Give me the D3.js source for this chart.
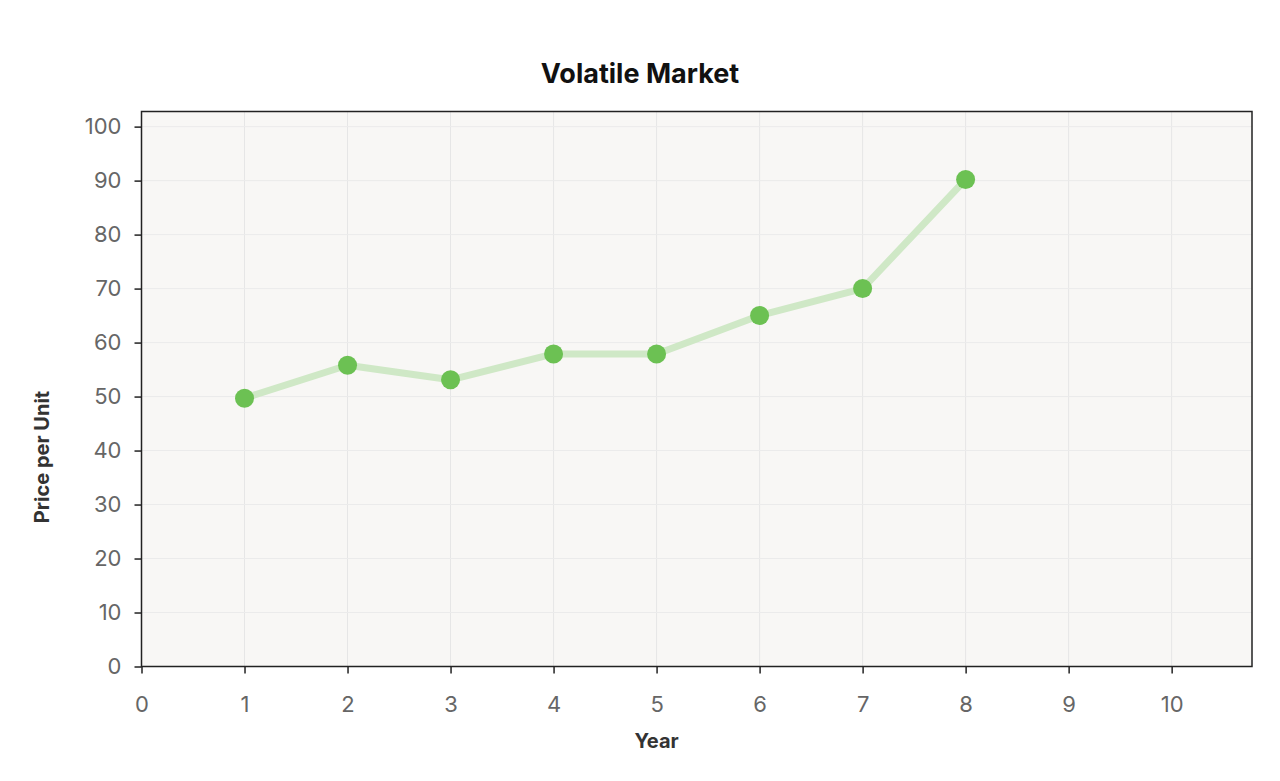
<!DOCTYPE html>
<html>
<head>
<meta charset="utf-8">
<script src="https://cdn.jsdelivr.net/npm/d3@7"></script>
<style>
  body { margin: 0; background: #fff; }
  svg text { font-family: Inter, "DejaVu Sans", sans-serif; }
</style>
</head>
<body>
<div id="chart"></div>
<script>
// data
var years = [1, 2, 3, 4, 5, 6, 7, 8];
var prices = [49.7, 55.8, 53.1, 57.9, 57.9, 65, 70, 90.2];
var xTicks = [0, 1, 2, 3, 4, 5, 6, 7, 8, 9, 10];
var yTicks = [0, 10, 20, 30, 40, 50, 60, 70, 80, 90, 100];

var W = 1280, H = 781,
    m = {top: 111.5, right: 28, bottom: 114.5, left: 141.5},
    w = W - m.left - m.right,
    h = H - m.top - m.bottom;

var svg = d3.select("#chart").append("svg")
    .attr("width", W)
    .attr("height", H);

var x = d3.scaleLinear().domain([0, 10.78]).range([0, w]);
var y = d3.scaleLinear().domain([0, 102.8]).range([h, 0]);

var g = svg.append("g")
    .attr("transform", "translate(" + m.left + "," + m.top + ")");

// plot background
g.append("rect")
    .attr("width", w)
    .attr("height", h)
    .style("fill", "#f8f7f5");

// grid
g.selectAll(".vgrid").data(xTicks).enter().append("line")
    .attr("x1", function(d){ return x(d); })
    .attr("x2", function(d){ return x(d); })
    .attr("y1", 0).attr("y2", h)
    .style("stroke", "#e6e6e6").style("stroke-width", 1);

g.selectAll(".hgrid").data(yTicks).enter().append("line")
    .attr("y1", function(d){ return y(d); })
    .attr("y2", function(d){ return y(d); })
    .attr("x1", 0).attr("x2", w)
    .style("stroke", "#ebebeb").style("stroke-width", 1);

// axes
var xAxis = g.append("g")
    .attr("transform", "translate(0," + h + ")")
    .call(d3.axisBottom(x).tickValues(xTicks).tickSize(7).tickPadding(23).tickFormat(d3.format("d")));

var yAxis = g.append("g")
    .call(d3.axisLeft(y).tickValues(yTicks).tickSize(7).tickPadding(13).tickFormat(d3.format("d")));

[xAxis, yAxis].forEach(function(a){
  a.select(".domain").remove();
  a.selectAll(".tick line").style("stroke", "#222").style("stroke-width", 1.5);
  a.selectAll(".tick text")
    .style("font-size", "22px")
    .style("fill", "#666")
    .style("font-family", "Inter, sans-serif");
});

// frame
g.append("rect")
    .attr("width", w)
    .attr("height", h)
    .style("fill", "none")
    .style("stroke", "#222")
    .style("stroke-width", 1.5);

// line
var pts = years.map(function(d, i){ return [d, prices[i]]; });

g.append("path")
    .datum(pts)
    .attr("d", d3.line()
      .x(function(d){ return x(d[0]); })
      .y(function(d){ return y(d[1]); }))
    .style("fill", "none")
    .style("stroke", "#cfe8c6")
    .style("stroke-width", 7)
    .style("stroke-linejoin", "round");

g.selectAll(".dot").data(pts).enter().append("circle")
    .attr("cx", function(d){ return x(d[0]); })
    .attr("cy", function(d){ return y(d[1]); })
    .attr("r", 9.5)
    .style("fill", "#6cc153");

// titles
svg.append("text")
    .attr("x", 640).attr("y", 83)
    .attr("text-anchor", "middle")
    .style("font-size", "27px")
    .style("font-weight", "bold")
    .style("fill", "#111")
    .text("Volatile Market");

svg.append("text")
    .attr("x", m.left + x(5)).attr("y", 748)
    .attr("text-anchor", "middle")
    .style("font-size", "20px")
    .style("font-weight", "bold")
    .style("fill", "#333")
    .text("Year");

svg.append("text")
    .attr("transform", "translate(49,457) rotate(-90)")
    .attr("text-anchor", "middle")
    .style("font-size", "20px")
    .style("font-weight", "bold")
    .style("fill", "#333")
    .text("Price per Unit");
</script>
</body>
</html>
